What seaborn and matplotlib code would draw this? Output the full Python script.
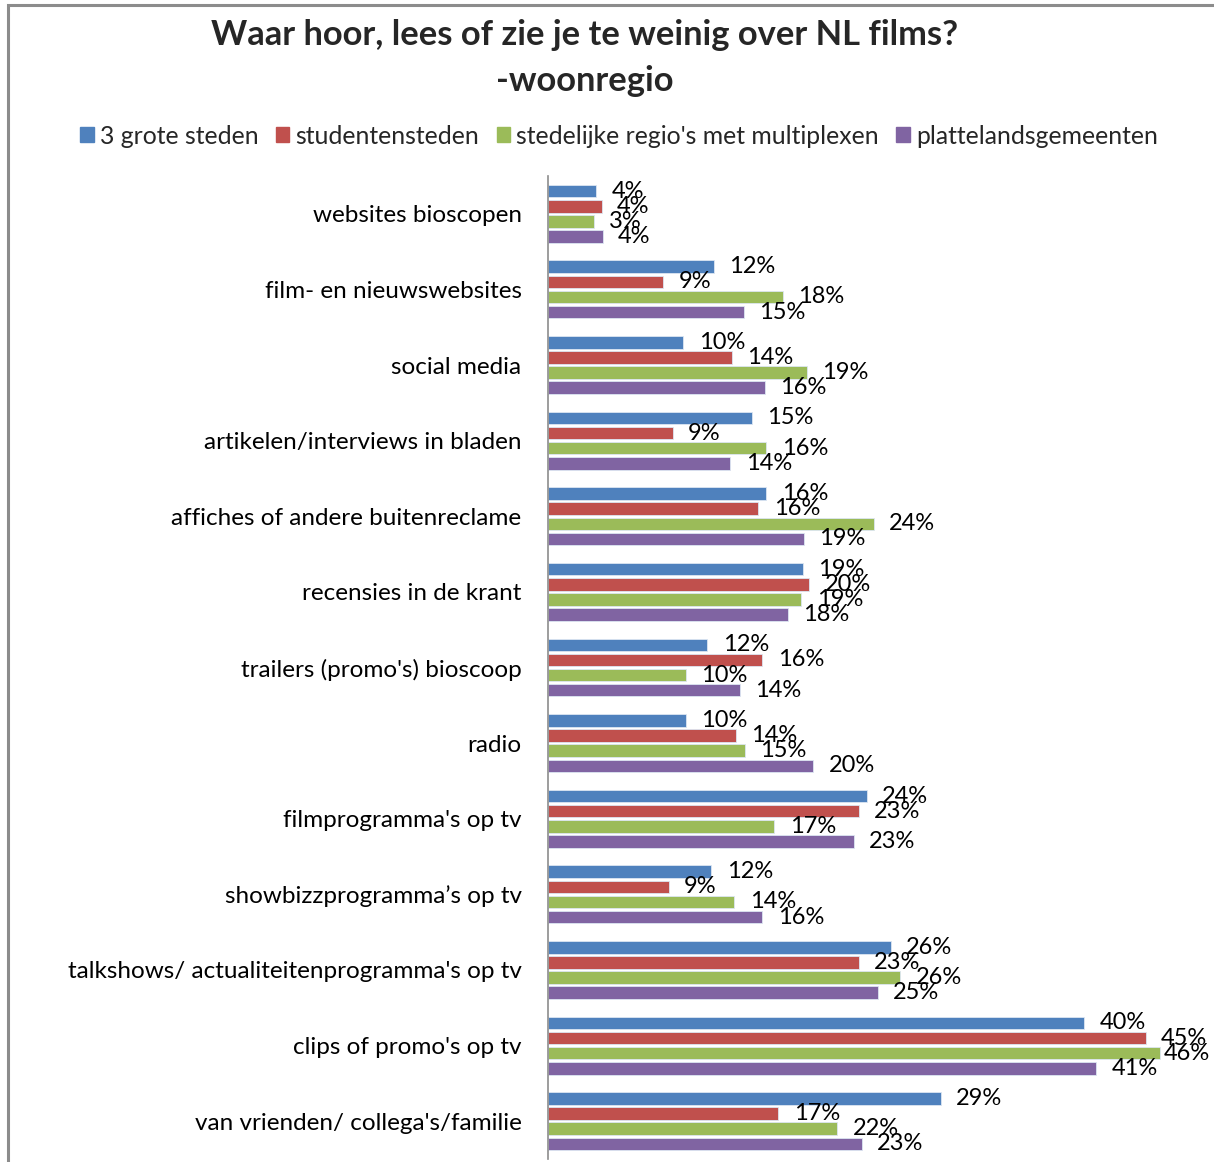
import matplotlib
matplotlib.use("Agg")
import matplotlib.pyplot as plt
from matplotlib.patches import Rectangle
import pandas as pd
import seaborn as sns


# ---------------------------------------------
# Data
# ---------------------------------------------
categories = [
    "websites bioscopen",
    "film- en nieuwswebsites",
    "social media",
    "artikelen/interviews in bladen",
    "affiches of andere buitenreclame",
    "recensies in de krant",
    "trailers (promo's) bioscoop",
    "radio",
    "filmprogramma's op tv",
    "showbizzprogramma\u2019s op tv",
    "talkshows/ actualiteitenprogramma's op tv",
    "clips of promo's op tv",
    "van vrienden/ collega's/familie",
]

series = [
    "3 grote steden",
    "studentensteden",
    "stedelijke regio's met multiplexen",
    "plattelandsgemeenten",
]

grote_steden = [3.6, 12.4, 10.1, 15.2, 16.3, 19.0, 11.9, 10.3, 23.8, 12.2, 25.6, 40.0, 29.3]
studentensteden = [4.0, 8.6, 13.7, 9.3, 15.7, 19.5, 16.0, 14.0, 23.2, 9.0, 23.2, 44.6, 17.2]
multiplex_regio = [3.4, 17.5, 19.3, 16.3, 24.3, 18.9, 10.3, 14.7, 16.9, 13.9, 26.3, 45.7, 21.6]
platteland = [4.1, 14.6, 16.2, 13.6, 19.1, 17.9, 14.3, 19.8, 22.8, 16.0, 24.6, 40.9, 23.4]

colors = ["#4F81BD", "#C0504D", "#9BBB59", "#8064A2"]


def build_frame():

    values = [grote_steden, studentensteden, multiplex_regio, platteland]

    rows = []
    for name, vals in zip(series, values):
        for cat, v in zip(categories, vals):
            rows.append({"categorie": cat, "regio": name, "pct": v})

    return pd.DataFrame(rows)


def create_graph(df):

    sns.set_theme(style="white")
    plt.rcParams["font.family"] = ["Lato", "DejaVu Sans"]

    fig = plt.figure(figsize=(12.14, 11.62), dpi=100)

    ax = fig.add_axes([548 / 1214, 1 - 1159 / 1162, 1 - 548 / 1214, (1159 - 176) / 1162])

    sns.barplot(
        data=df,
        x="pct",
        y="categorie",
        hue="regio",
        order=categories,
        hue_order=series,
        palette=colors,
        saturation=1,
        orient="h",
        gap=0.17,
        edgecolor="#dce6f2",
        linewidth=0.6,
        ax=ax,
        legend=False,
    )

    # data labels
    labels = []
    for container in ax.containers:
        labels += ax.bar_label(
            container,
            labels=[f"{w:.0f}%" for w in container.datavalues],
            padding=11,
            fontsize=17,
            color="black",
        )

    ax.set_xlim(0, 49.7)
    ax.set_xlabel("")
    ax.set_ylabel("")
    ax.set_xticks([])
    ax.tick_params(axis="y", length=0, pad=19, labelsize=17.5)
    for lab in ax.get_yticklabels():
        lab.set_color("black")

    for side in ["top", "right", "bottom"]:
        ax.spines[side].set_visible(False)
    ax.spines["left"].set_color("#8c8c8c")
    ax.spines["left"].set_linewidth(1.2)

    # title
    fig.text(
        585 / 1214, 1 - 58 / 1162,
        "Waar hoor, lees of zie je te weinig over NL films?\n-woonregio",
        ha="center", va="center",
        fontsize=24.8, fontweight="bold", linespacing=1.55,
    )

    # legend
    handles = [Rectangle((0, 0), 1, 1, color=c) for c in colors]
    fig.legend(
        handles, series,
        loc="center", bbox_to_anchor=(619 / 1214, 1 - 136 / 1162),
        ncol=4, frameon=False, fontsize=17.8,
        handlelength=0.55, handleheight=0.55, handletextpad=0.25,
        columnspacing=0.7,
    )

    # chart frame
    fig.patches.append(Rectangle(
        (8 / 1214, -0.05), 1.2, 1 - 5 / 1162 + 0.05,
        transform=fig.transFigure, fill=False,
        edgecolor="#8c8c8c", linewidth=2.2, clip_on=False,
    ))

    # labels that run past the right edge are pulled back inside
    fig.canvas.draw()
    renderer = fig.canvas.get_renderer()
    limit = fig.bbox.width - 4
    for t in labels:
        bb = t.get_window_extent(renderer)
        if bb.x1 > limit:
            dx_pt = (bb.x1 - limit) * 72 / fig.dpi
            ox, oy = t.xyann
            t.xyann = (ox - dx_pt, oy)

    fig.savefig("out.png", dpi=100)


def main():

    data = build_frame()
    create_graph(data)


if __name__ == "__main__":
    main()
